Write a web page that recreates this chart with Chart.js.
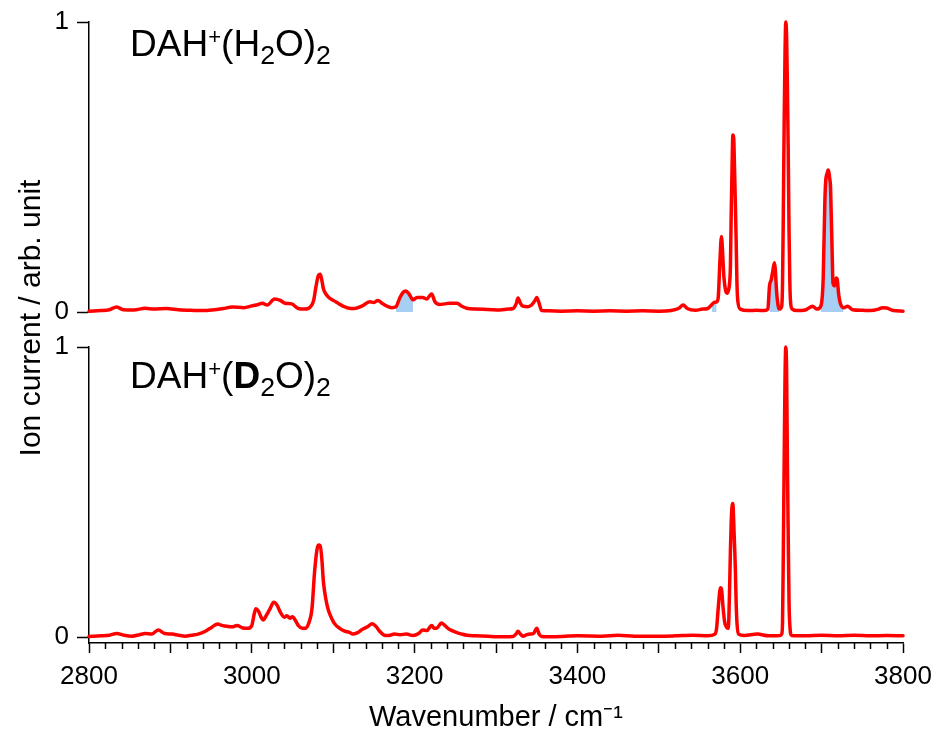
<!DOCTYPE html>
<html lang="en">
<head>
<meta charset="UTF-8" />
<title>DAH+(H2O)2 / DAH+(D2O)2 spectra</title>
<script src="https://cdn.jsdelivr.net/npm/chart.js"></script>
<style>
  body, html {
    margin: 0; padding: 0;
    background: #fff;
    font-family: "Liberation Sans", Arial, sans-serif;
  }
  #wrap { position: relative; width: 935px; height: 738px; overflow: hidden; }
  canvas { position: absolute; left: 0; }
  #topChart { top: 0; }
  #botChart { top: 330px; }
  .panel-label {
    position: absolute;
    left: 130px;
    font-size: 37px;
    line-height: 1;
    color: #000;
    white-space: nowrap;
  }
  .panel-label sup { font-size: 0.6em; vertical-align: 0.55em; }
  .panel-label sub { font-size: 0.72em; vertical-align: -0.3em; }
  #ytitle {
    position: absolute;
    width: 440px;
    left: -190px;
    top: 300px;
    text-align: center;
    font-size: 30px;
    line-height: 36px;
    transform: rotate(-90deg);
    color: #000;
  }
</style>
</head>
<body>
<div id="wrap">
  <canvas id="topChart" width="935" height="330"></canvas>
  <canvas id="botChart" width="935" height="408"></canvas>
  <div class="panel-label" style="top:25px">DAH<sup>+</sup>(H<sub>2</sub>O)<sub>2</sub></div>
  <div class="panel-label" style="top:357px">DAH<sup>+</sup>(<b>D</b><sub>2</sub>O)<sub>2</sub></div>
  <div id="ytitle">Ion current / arb. unit</div>
</div>

<script>
  // x range and tick values (cm^-1)
  const xMin = 2800, xMax = 3800;
  const xTickLabels = [2800, 3000, 3200, 3400, 3600, 3800];
  const xMajorStep = 100, xMinorStep = 20;
  const yTickValues = [0, 1];

  // DAH+(H2O)2
  const topWavenumber = [
    2800, 2815, 2825, 2834, 2842, 2855, 2869, 2880, 2895, 2910, 2925, 2940, 2951, 2965, 2976, 2990,
    3000, 3008, 3013, 3019, 3028, 3035, 3041, 3049, 3057, 3065, 3072, 3076, 3079, 3082, 3084, 3086,
    3088, 3091, 3094, 3100, 3106, 3112, 3118, 3126, 3135, 3145, 3150, 3155, 3160, 3166, 3172, 3177,
    3182, 3186, 3189, 3193, 3198, 3203, 3210, 3215, 3219, 3221, 3225, 3231, 3237, 3243, 3252, 3258,
    3264, 3275, 3290, 3305, 3315, 3321, 3325, 3327, 3330, 3333, 3339, 3344, 3348, 3350, 3353, 3356,
    3365, 3380, 3400, 3420, 3440, 3460, 3480, 3500, 3515, 3524, 3530, 3535, 3545, 3554, 3560, 3565,
    3568, 3571, 3573, 3575, 3577, 3579, 3580, 3582, 3584, 3586, 3587, 3588, 3589, 3590, 3591, 3592,
    3593, 3594, 3595, 3596, 3597, 3600, 3610, 3620, 3630, 3634, 3636, 3638, 3640, 3642, 3643, 3645,
    3648, 3651, 3652, 3653, 3654, 3655, 3656, 3657, 3658, 3659, 3660, 3661, 3662, 3664, 3670, 3680,
    3689, 3694, 3699, 3701, 3702, 3704, 3705, 3707, 3708, 3710, 3711, 3713, 3714, 3716, 3718, 3719,
    3721, 3723, 3727, 3732, 3738, 3750, 3760, 3770, 3775, 3780, 3788, 3800
  ];
  const topIntensity = [
    0.003, 0.005, 0.008, 0.017, 0.008, 0.007, 0.013, 0.010, 0.012, 0.008, 0.006, 0.005, 0.007, 0.012, 0.017, 0.015,
    0.021, 0.026, 0.030, 0.024, 0.045, 0.040, 0.030, 0.028, 0.012, 0.010, 0.018, 0.040, 0.090, 0.127, 0.130, 0.110,
    0.080, 0.062, 0.052, 0.040, 0.030, 0.020, 0.014, 0.012, 0.020, 0.035, 0.033, 0.040, 0.030, 0.020, 0.015, 0.018,
    0.050, 0.068, 0.072, 0.063, 0.042, 0.050, 0.050, 0.045, 0.058, 0.062, 0.035, 0.026, 0.028, 0.030, 0.030, 0.020,
    0.013, 0.010, 0.009, 0.007, 0.010, 0.012, 0.030, 0.048, 0.030, 0.020, 0.018, 0.025, 0.040, 0.050, 0.030, 0.005,
    0.004, 0.003, 0.004, 0.003, 0.004, 0.003, 0.004, 0.003, 0.005, 0.012, 0.024, 0.012, 0.006, 0.010, 0.012, 0.025,
    0.033, 0.035, 0.050, 0.170, 0.260, 0.170, 0.120, 0.075, 0.065, 0.080, 0.100, 0.160, 0.350, 0.500, 0.610, 0.600,
    0.500, 0.380, 0.250, 0.100, 0.040, 0.010, 0.005, 0.006, 0.005, 0.010, 0.090, 0.110, 0.140, 0.170, 0.150, 0.060,
    0.010, 0.020, 0.100, 0.350, 0.650, 0.880, 1.000, 0.950, 0.780, 0.550, 0.280, 0.100, 0.030, 0.010, 0.005, 0.007,
    0.020, 0.010, 0.020, 0.060, 0.120, 0.380, 0.450, 0.480, 0.490, 0.460, 0.430, 0.200, 0.100, 0.090, 0.117, 0.115,
    0.060, 0.030, 0.015, 0.020, 0.008, 0.006, 0.005, 0.010, 0.015, 0.014, 0.005, 0.003
  ];
  // blue shaded bands of the top panel (cm^-1)
  const shadeRanges = [[3176, 3200], [3564, 3572], [3636, 3648], [3698, 3727]];

  // DAH+(D2O)2
  const botWavenumber = [
    2800, 2815, 2825, 2834, 2843, 2853, 2862, 2869, 2877, 2885, 2893, 2902, 2910, 2918, 2926, 2934,
    2943, 2951, 2958, 2963, 2967, 2976, 2982, 2988, 2995, 3000, 3003, 3005, 3008, 3012, 3014, 3018,
    3022, 3027, 3031, 3035, 3040, 3043, 3047, 3050, 3054, 3057, 3062, 3066, 3070, 3074, 3077, 3080,
    3082, 3084, 3086, 3088, 3091, 3094, 3098, 3102, 3108, 3114, 3120, 3124, 3130, 3135, 3142, 3148,
    3153, 3157, 3164, 3170, 3175, 3182, 3190, 3198, 3205, 3210, 3215, 3221, 3224, 3227, 3233, 3237,
    3241, 3246, 3252, 3258, 3264, 3275, 3290, 3300, 3310, 3321, 3325, 3327, 3330, 3333, 3338, 3342,
    3346, 3350, 3353, 3356, 3370, 3400, 3430, 3450, 3470, 3500, 3520, 3542, 3560, 3569, 3571, 3573,
    3575, 3576, 3577, 3579, 3581, 3583, 3585, 3586, 3587, 3588, 3589, 3590, 3591, 3592, 3593, 3594,
    3595, 3596, 3598, 3605, 3621, 3635, 3649, 3651, 3652, 3653, 3654, 3655, 3656, 3657, 3658, 3659,
    3660, 3661, 3663, 3680, 3700, 3720, 3740, 3760, 3780, 3800
  ];
  const botIntensity = [
    0.002, 0.004, 0.006, 0.012, 0.006, 0.003, 0.008, 0.012, 0.010, 0.024, 0.012, 0.010, 0.006, 0.003, 0.006, 0.010,
    0.020, 0.034, 0.045, 0.040, 0.038, 0.035, 0.040, 0.032, 0.030, 0.040, 0.080, 0.097, 0.090, 0.065, 0.059, 0.075,
    0.095, 0.120, 0.110, 0.086, 0.068, 0.073, 0.065, 0.070, 0.055, 0.040, 0.030, 0.030, 0.048, 0.100, 0.220, 0.300,
    0.317, 0.315, 0.270, 0.190, 0.130, 0.093, 0.065, 0.045, 0.030, 0.020, 0.016, 0.010, 0.015, 0.025, 0.035, 0.046,
    0.035, 0.020, 0.005, 0.006, 0.010, 0.008, 0.010, 0.005, 0.012, 0.024, 0.022, 0.040, 0.030, 0.030, 0.048, 0.040,
    0.030, 0.022, 0.015, 0.010, 0.006, 0.004, 0.003, 0.001, 0.001, 0.002, 0.012, 0.020, 0.010, 0.003, 0.008, 0.010,
    0.012, 0.030, 0.010, 0.002, 0.001, 0.004, 0.003, 0.006, 0.003, 0.003, 0.004, 0.006, 0.004, 0.010, 0.030, 0.100,
    0.160, 0.170, 0.165, 0.100, 0.050, 0.035, 0.030, 0.060, 0.170, 0.300, 0.400, 0.450, 0.460, 0.400, 0.320, 0.240,
    0.120, 0.050, 0.010, 0.005, 0.010, 0.004, 0.005, 0.010, 0.050, 0.300, 0.600, 0.880, 1.000, 0.920, 0.600, 0.350,
    0.120, 0.040, 0.005, 0.004, 0.006, 0.004, 0.006, 0.004, 0.005, 0.004
  ];

  const lineRed = '#ff0000';
  const shadeBlue = '#a7cff4';
  const fontFamily = '"Liberation Sans", Arial, sans-serif';
  const tickFont = { family: fontFamily, size: 26 };

  function toPoints(xs, ys) {
    return xs.map((x, i) => ({ x: x, y: ys[i] }));
  }

  function yScale(min) {
    return {
      min: min, max: 1,
      afterBuildTicks: s => { s.ticks = yTickValues.map(v => ({ value: v })); },
      afterFit: s => {
        s.width = 89;
        // let the chart area follow layout.padding, not the label overhang
        s.paddingTop = 0;
        s.paddingBottom = 0;
      },
      ticks: { color: '#000', font: tickFont, padding: 8 },
      grid: { drawOnChartArea: false, tickLength: 12, tickColor: '#000', tickWidth: 1.5 },
      border: { color: '#000', width: 1.5 }
    };
  }

  const lineStyle = {
    borderColor: lineRed,
    borderWidth: 3.5,
    borderJoinStyle: 'round',
    borderCapStyle: 'round',
    cubicInterpolationMode: 'monotone',
    fill: false,
    clip: false
  };

  // top panel: red trace plus blue bands under it
  const topPts = toPoints(topWavenumber, topIntensity);
  const shadeSets = shadeRanges.map(r => ({
    data: topPts.filter(p => p.x >= r[0] && p.x <= r[1]),
    borderWidth: 0,
    backgroundColor: shadeBlue,
    cubicInterpolationMode: 'monotone',
    fill: 'origin',
    order: 2
  }));

  new Chart(document.getElementById('topChart'), {
    type: 'line',
    data: {
      datasets: shadeSets.concat([Object.assign({ data: topPts, order: 1 }, lineStyle)])
    },
    options: {
      responsive: false,
      animation: false,
      layout: { padding: { top: 22, bottom: 18, left: 0, right: 32 } },
      plugins: { legend: { display: false }, tooltip: { enabled: false } },
      elements: { point: { radius: 0 } },
      scales: {
        x: { type: 'linear', min: xMin, max: xMax, display: false },
        y: yScale(0)
      }
    }
  });

  // short minor ticks on the wavenumber axis
  const minorTicks = {
    id: 'minorTicks',
    afterDraw(chart) {
      const xs = chart.scales.x, ctx = chart.ctx;
      const y0 = chart.chartArea.bottom;
      ctx.save();
      ctx.strokeStyle = '#000';
      ctx.lineWidth = 1.5;
      ctx.beginPath();
      for (let v = xMin; v <= xMax; v += xMinorStep) {
        if (v % xMajorStep === 0) continue;
        const px = Math.round(xs.getPixelForValue(v)) + 0.5;
        ctx.moveTo(px, y0);
        ctx.lineTo(px, y0 + 6);
      }
      ctx.stroke();
      ctx.restore();
    }
  };

  new Chart(document.getElementById('botChart'), {
    type: 'line',
    data: {
      datasets: [Object.assign({ data: toPoints(botWavenumber, botIntensity) }, lineStyle)]
    },
    options: {
      responsive: false,
      animation: false,
      layout: { padding: { top: 17, bottom: 0, left: 0, right: 32 } },
      plugins: { legend: { display: false }, tooltip: { enabled: false } },
      elements: { point: { radius: 0 } },
      scales: {
        x: {
          type: 'linear', min: xMin, max: xMax,
          afterBuildTicks: s => {
            const t = [];
            for (let v = xMin; v <= xMax; v += xMajorStep) t.push({ value: v });
            s.ticks = t;
          },
          afterFit: s => {
            s.height = 95;
            s.paddingLeft = 0;
            s.paddingRight = 0;
          },
          ticks: {
            color: '#000', font: tickFont, padding: 8, maxRotation: 0, autoSkip: false,
            callback: v => xTickLabels.includes(v) ? String(v) : ''
          },
          grid: { drawOnChartArea: false, tickLength: 10, tickColor: '#000', tickWidth: 1.5 },
          border: { color: '#000', width: 1.5 },
          title: {
            display: true, text: 'Wavenumber / cm\u207B\u00B9', color: '#000',
            font: { family: fontFamily, size: 29 },
            padding: { top: 0, bottom: 3 }
          }
        },
        y: yScale(-6 / 290)
      }
    },
    plugins: [minorTicks]
  });
</script>
</body>
</html>
